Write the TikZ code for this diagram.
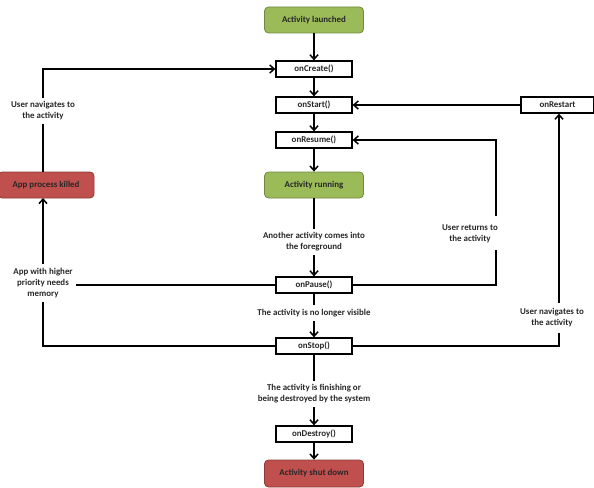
\documentclass[tikz,border=0pt]{standalone}
\usepackage{fontspec}
\setmainfont{Carlito}
\usetikzlibrary{arrows.meta}
\definecolor{gfill}{HTML}{9BBB59}
\definecolor{gdraw}{HTML}{71893F}
\definecolor{rfill}{HTML}{C0504D}
\definecolor{rdraw}{HTML}{8C3A38}
\tikzset{
  every node/.style={font=\fontsize{8.9}{11}\selectfont\bfseries, text=black!85},
  method/.style={draw=black, line width=1.3pt, fill=white, minimum width=76pt, minimum height=16pt, inner sep=0pt},
  gstate/.style={draw=gdraw, line width=0.8pt, fill=gfill, rounded corners=4pt, minimum width=99pt, minimum height=26pt, inner sep=0pt},
  rstate/.style={draw=rdraw, line width=0.8pt, fill=rfill, rounded corners=4pt, minimum width=99pt, minimum height=26pt, inner sep=0pt},
  lbl/.style={align=center, inner sep=3.5pt},
  conn/.style={line width=1.5pt, draw=black},
  arr/.style={conn, -{Straight Barb[length=4.5pt,width=8pt,line width=1.5pt]}}
}
\begin{document}
\begin{tikzpicture}[x=1pt,y=-1pt]
\useasboundingbox (0,0) rectangle (594,487);
% main column
\node[gstate] (launched) at (314,20) {Activity launched};
\node[method] (create) at (314,69) {onCreate()};
\node[method] (start) at (314,105) {onStart()};
\node[method] (resume) at (314,140) {onResume()};
\node[gstate] (running) at (314,185) {Activity running};
\node[lbl] (another) at (314,242) {Another activity comes into\\the foreground};
\node[method] (pause) at (314,285) {onPause()};
\node[lbl] (nolonger) at (314,313) {The activity is no longer visible};
\node[method] (stop) at (314,346) {onStop()};
\node[lbl] (finish) at (314,394) {The activity is finishing or\\being destroyed by the system};
\node[method] (destroy) at (314,434) {onDestroy()};
\node[rstate, minimum height=27pt] (shut) at (314,473.5) {Activity shut down};
% left
\node[rstate, minimum width=96pt] (killed) at (46,185) {App process killed};
\node[lbl] (nav1) at (43,111) {User navigates to\\the activity};
\node[lbl] (mem) at (43,283) {App with higher\\priority needs\\memory};
% right
\node[method, minimum width=73pt] (restart) at (557.5,105) {onRestart};
\node[lbl] (returns) at (470,234) {User returns to\\the activity};
\node[lbl] (nav2) at (552,318) {User navigates to\\the activity};
\coordinate (r1) at (496,250);
\coordinate (r2) at (496,216);
\coordinate (s1) at (559,333);
\coordinate (s2) at (559,303);
\coordinate (k1) at (43,172);
\coordinate (k2) at (43,198);
% main flow
\draw[arr] (launched) -- (create);
\draw[arr] (create) -- (start);
\draw[arr] (start) -- (resume);
\draw[arr] (resume) -- (running);
\draw[conn] (running) -- (another);
\draw[arr] (another) -- (pause);
\draw[conn] (pause) -- (nolonger);
\draw[arr] (nolonger) -- (stop);
\draw[conn] (stop) -- (finish);
\draw[arr] (finish) -- (destroy);
\draw[arr] (destroy) -- (shut.north);
% left loop
\draw[conn] (k1) -- (nav1.south);
\draw[arr] (nav1.north) |- (create.west);
\draw[arr] (mem.north) -- (k2);
\draw[conn] (pause.west) -- (mem.east |- pause.west);
\draw[conn] (mem.south) |- (stop.west);
% right loops
\draw[conn] (pause.east) -| (r1);
\draw[arr] (r2) |- (resume.east);
\draw[conn] (stop.east) -| (s1);
\draw[arr] (s2) -- (restart.south -| s2);
\draw[arr] (restart) -- (start);
\end{tikzpicture}
\end{document}
